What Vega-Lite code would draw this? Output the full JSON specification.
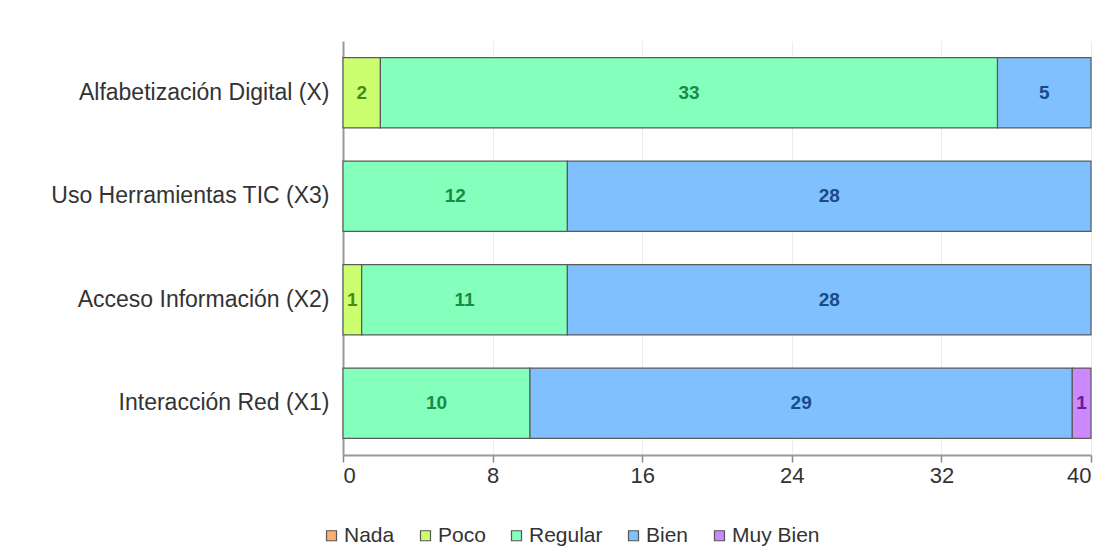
{
  "$schema": "https://vega.github.io/schema/vega-lite/v6.json",
  "autosize": "none",
  "width": 748,
  "height": 414,
  "padding": {"left": 343, "top": 41, "right": 14, "bottom": 104},
  "background": "white",
  "config": {
    "view": {"stroke": null},
    "font": "Liberation Sans"
  },
  "data": {
    "values": [
      {"cat": "Alfabetización Digital (X)", "serie": "Poco", "k": 2, "v": 2},
      {"cat": "Alfabetización Digital (X)", "serie": "Regular", "k": 3, "v": 33},
      {"cat": "Alfabetización Digital (X)", "serie": "Bien", "k": 4, "v": 5},
      {"cat": "Uso Herramientas TIC (X3)", "serie": "Regular", "k": 3, "v": 12},
      {"cat": "Uso Herramientas TIC (X3)", "serie": "Bien", "k": 4, "v": 28},
      {"cat": "Acceso Información (X2)", "serie": "Poco", "k": 2, "v": 1},
      {"cat": "Acceso Información (X2)", "serie": "Regular", "k": 3, "v": 11},
      {"cat": "Acceso Información (X2)", "serie": "Bien", "k": 4, "v": 28},
      {"cat": "Interacción Red (X1)", "serie": "Regular", "k": 3, "v": 10},
      {"cat": "Interacción Red (X1)", "serie": "Bien", "k": 4, "v": 29},
      {"cat": "Interacción Red (X1)", "serie": "Muy Bien", "k": 5, "v": 1}
    ]
  },
  "encoding": {
    "y": {
      "field": "cat",
      "type": "nominal",
      "sort": ["Alfabetización Digital (X)", "Uso Herramientas TIC (X3)", "Acceso Información (X2)", "Interacción Red (X1)"],
      "scale": {"paddingInner": 0.32, "paddingOuter": 0.16},
      "axis": {
        "title": null,
        "labelFontSize": 23,
        "labelLimit": 0,
        "labelColor": "#333333",
        "labelPadding": 14,
        "ticks": false,
        "domainColor": "#999999",
        "domainWidth": 2,
        "grid": false
      }
    },
    "order": {"field": "k", "type": "quantitative"}
  },
  "layer": [
    {
      "mark": {"type": "bar", "stroke": "#5a5a5a", "strokeWidth": 1.2},
      "encoding": {
        "x": {
          "field": "v",
          "type": "quantitative",
          "stack": "zero",
          "scale": {"domain": [0, 40], "nice": false},
          "axis": {
            "title": null,
            "values": [0, 8, 16, 24, 32, 40],
            "labelFontSize": 22,
            "labelColor": "#333333",
            "labelPadding": 3,
            "tickColor": "#888888",
            "tickSize": 7,
            "tickWidth": 1.5,
            "domainColor": "#999999",
            "domainWidth": 2,
            "grid": true,
            "gridColor": "#ececec",
            "gridWidth": 1
          }
        },
        "color": {
          "field": "serie",
          "type": "nominal",
          "scale": {
            "domain": ["Nada", "Poco", "Regular", "Bien", "Muy Bien"],
            "range": ["#ffb070", "#ccff70", "#84ffbc", "#80c0ff", "#cc88ff"]
          },
          "legend": {
            "title": null,
            "orient": "none",
            "legendX": -22,
            "legendY": 484,
            "direction": "horizontal",
            "symbolType": "square",
            "symbolSize": 100,
            "symbolStrokeColor": "#555555",
            "symbolStrokeWidth": 1.2,
            "labelFontSize": 21,
            "labelColor": "#333333",
            "labelOffset": 2,
            "columnPadding": 20
          }
        }
      }
    },
    {
      "mark": {"type": "text", "fontWeight": "bold", "fontSize": 19, "baseline": "middle", "align": "center"},
      "encoding": {
        "x": {"field": "v", "type": "quantitative", "stack": "zero", "bandPosition": 0.5},
        "text": {"field": "v", "type": "quantitative"},
        "color": {
          "field": "serie",
          "type": "nominal",
          "scale": {
            "domain": ["Nada", "Poco", "Regular", "Bien", "Muy Bien"],
            "range": ["#8a4a10", "#4a8a10", "#1a8a45", "#1a4a8a", "#6a1a9a"]
          },
          "legend": null
        }
      }
    }
  ],
  "resolve": {"scale": {"color": "independent"}}
}
